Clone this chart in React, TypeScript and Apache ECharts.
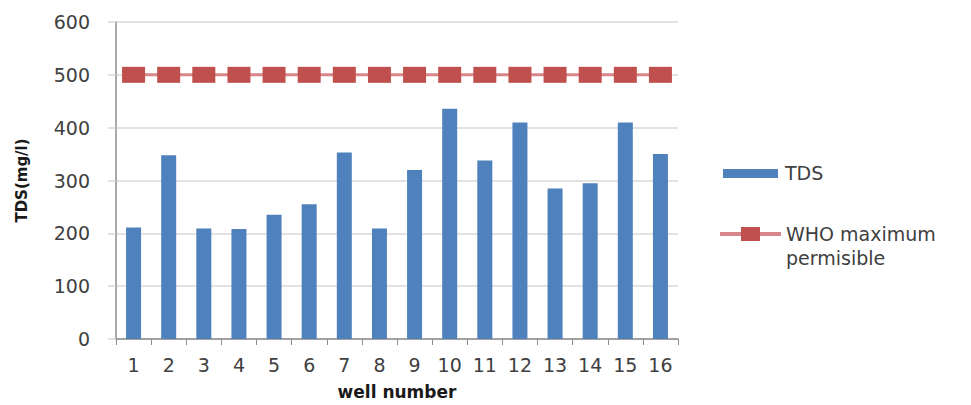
import React, { useEffect, useRef } from "react";
import * as echarts from "echarts";

// Well numbers along the x axis
const wells = ["1", "2", "3", "4", "5", "6", "7", "8", "9", "10", "11", "12", "13", "14", "15", "16"];
// Total dissolved solids measured at each well (mg/l)
const tdsValues = [211, 348, 209, 208, 235, 255, 353, 209, 320, 436, 338, 410, 285, 295, 410, 350];
// WHO maximum permissible TDS level (mg/l)
const whoLimit = [500, 500, 500, 500, 500, 500, 500, 500, 500, 500, 500, 500, 500, 500, 500, 500];

const FONT = "'DejaVu Sans', Verdana, sans-serif";
const TEXT = "#404040";

export default function App() {
  const ref = useRef<HTMLDivElement>(null);

  useEffect(() => {
    if (!ref.current) return;
    const chart = echarts.init(ref.current, null, { renderer: "svg" });
    chart.setOption({
      animation: false,
      backgroundColor: "#ffffff",
      textStyle: { fontFamily: FONT },
      grid: { left: 116, right: 293, top: 22, bottom: 66, outerBoundsMode: "none", containLabel: false },
      xAxis: {
        type: "category",
        data: wells,
        boundaryGap: true,
        name: "well number",
        nameLocation: "middle",
        nameGap: 44,
        nameTextStyle: { fontFamily: FONT, fontWeight: "bold", fontSize: 17, color: "#1a1a1a" },
        axisLine: { lineStyle: { color: "#8c8c8c", width: 1.5 } },
        axisTick: { show: true, interval: 0, length: 6, lineStyle: { color: "#8c8c8c" } },
        axisLabel: { interval: 0, fontSize: 19, color: TEXT, margin: 16, fontFamily: FONT },
      },
      yAxis: {
        type: "value",
        min: 0,
        max: 600,
        interval: 100,
        name: "TDS(mg/l)",
        nameLocation: "middle",
        nameGap: 87,
        nameRotate: 90,
        nameTextStyle: { fontFamily: FONT, fontWeight: "bold", fontSize: 15, color: "#1a1a1a" },
        axisLine: { show: true, lineStyle: { color: "#8c8c8c", width: 1.5 } },
        axisTick: { show: true, length: 8, lineStyle: { color: "#d9d9d9", width: 1.5 } },
        axisLabel: { fontSize: 19, color: TEXT, margin: 26, fontFamily: FONT },
        splitLine: { lineStyle: { color: "#d9d9d9", width: 1.5 } },
      },
      series: [
        {
          name: "TDS",
          type: "bar",
          data: tdsValues,
          barWidth: 15,
          itemStyle: { color: "#4F81BD" },
        },
        {
          name: "WHO maximum permisible",
          type: "line",
          data: whoLimit,
          symbol: "rect",
          symbolSize: [23, 16],
          showAllSymbol: true,
          lineStyle: { color: "#D9868A", width: 3 },
          itemStyle: { color: "#C0504D" },
          z: 3,
        },
      ],
      graphic: [
        // Legend: TDS
        { type: "rect", shape: { x: 723, y: 169, width: 55, height: 9 }, style: { fill: "#4F81BD" } },
        {
          type: "text",
          x: 785,
          y: 173,
          style: { text: "TDS", font: `19px ${FONT}`, fill: TEXT, verticalAlign: "middle" },
        },
        // Legend: WHO limit
        { type: "line", shape: { x1: 720, y1: 234, x2: 781, y2: 234 }, style: { stroke: "#D9868A", lineWidth: 4 } },
        { type: "rect", shape: { x: 741, y: 227, width: 19, height: 14 }, style: { fill: "#C0504D" } },
        {
          type: "text",
          x: 786,
          y: 234,
          style: { text: "WHO maximum", font: `19px ${FONT}`, fill: TEXT, verticalAlign: "middle" },
        },
        {
          type: "text",
          x: 786,
          y: 258,
          style: { text: "permisible", font: `19px ${FONT}`, fill: TEXT, verticalAlign: "middle" },
        },
      ],
    });
    return () => chart.dispose();
  }, []);

  return <div ref={ref} style={{ width: 971, height: 405, position: "absolute", left: 0, top: 0 }} />;
}
